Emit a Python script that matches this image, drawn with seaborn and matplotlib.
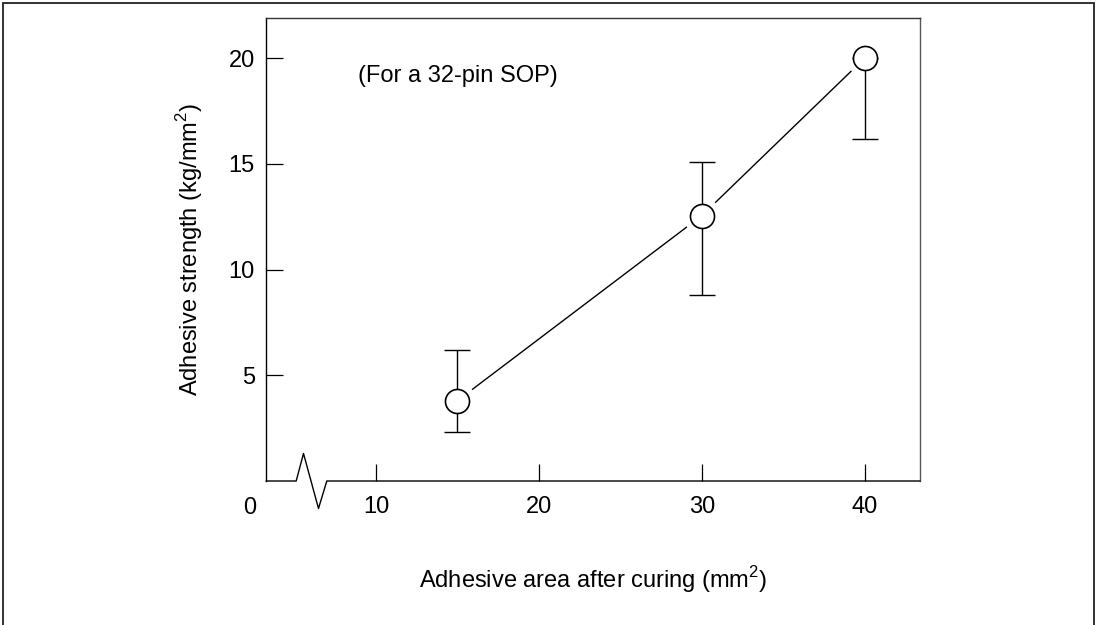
import matplotlib
matplotlib.use("Agg")
import matplotlib.pyplot as plt
from matplotlib.patches import Rectangle
import seaborn as sns
import pandas as pd

# Measured adhesive strength versus cured adhesive area (32-pin SOP)
area = [15, 30, 40]
strength = [3.8, 12.55, 20.0]
err_low = [2.3, 8.8, 16.2]
err_high = [6.2, 15.1, 20.0]

x_ticks = [10, 20, 30, 40]
y_ticks = [5, 10, 15, 20]

sns.set_theme(style="white")
plt.rcParams["font.family"] = ["Liberation Sans", "DejaVu Sans"]
plt.rcParams["mathtext.fontset"] = "custom"
plt.rcParams["mathtext.rm"] = "Liberation Sans"

FS = 17

df = pd.DataFrame({"area": area, "strength": strength})

fig = plt.figure(figsize=(10.98, 6.25), dpi=100)
ax = fig.add_axes([0.2423, 0.2304, 0.5956, 0.7408])

# connecting line, interrupted around each marker
sns.lineplot(data=df, x="area", y="strength", color="black", linewidth=1.0,
             ax=ax, zorder=1)
ax.plot(df["area"], df["strength"], linestyle="none", marker="o",
        markersize=26, markerfacecolor="white", markeredgecolor="white",
        zorder=2)

# asymmetric error bars
yerr = [[s - lo for s, lo in zip(strength, err_low)],
        [hi - s for s, hi in zip(strength, err_high)]]
ax.errorbar(area, strength, yerr=yerr, fmt="none", ecolor="black",
            elinewidth=1.0, capsize=9.7, capthick=1.0, zorder=3)

sns.scatterplot(data=df, x="area", y="strength", ax=ax, s=300, marker="o",
                facecolor="white", edgecolor="black", linewidth=1.2, zorder=4)

ax.set_xlim(3.25, 43.4)
ax.set_ylim(0, 21.9)
ax.set_xticks(x_ticks)
ax.set_yticks(y_ticks)
ax.set_xticklabels([str(t) for t in x_ticks])
ax.set_yticklabels([str(t) for t in y_ticks])
ax.tick_params(axis="both", direction="in", length=12, width=0.9,
               color="black", labelsize=FS, labelcolor="black")
ax.tick_params(axis="x", bottom=True, pad=11)
ax.tick_params(axis="y", left=True, pad=8)

for side in ["left", "top", "right"]:
    ax.spines[side].set_visible(True)
    ax.spines[side].set_linewidth(1.0)
ax.spines["left"].set_color("black")
ax.spines["top"].set_color("#333333")
ax.spines["right"].set_color("#555555")
ax.spines["bottom"].set_visible(False)

# bottom axis line with a zigzag break between 0 and 10
ax.plot([3.25, 5.1, 5.55, 6.47, 6.98, 43.4], [0, 0, 1.3, -1.3, 0, 0],
        color="black", linewidth=1.0, clip_on=False, zorder=5)

ax.annotate("0", xy=(0, 0), xycoords="axes fraction", xytext=(-11.5, -19.5),
            textcoords="offset points", ha="center", va="center",
            fontsize=FS, color="black")

ax.set_xlabel(r"Adhesive area after curing (mm$^{\mathregular{2}}$)",
              fontsize=FS, color="black", labelpad=33)
ax.set_ylabel(r"Adhesive strength (kg/mm$^{\mathregular{2}}$)",
              fontsize=FS, color="black", labelpad=17)

ax.text(0.141, 0.875, "(For a 32-pin SOP)", transform=ax.transAxes,
        fontsize=FS, color="black", ha="left", va="center")

# frame around the whole figure
fig.patches.append(Rectangle((2.5 / 1098, -0.02), 1091 / 1098, 1 - 2.5 / 625 + 0.02,
                             transform=fig.transFigure, fill=False,
                             edgecolor="#222222", linewidth=1.3, clip_on=False))

fig.savefig("out.png", dpi=100)
